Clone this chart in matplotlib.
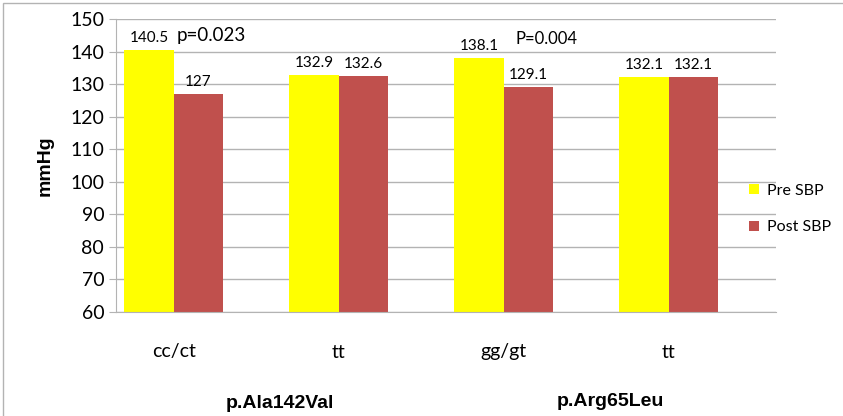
import matplotlib.pyplot as plt
import numpy as np
from matplotlib.patches import Rectangle

categories = ["cc/ct", "tt", "gg/gt", "tt"]
groups = ["p.Ala142Val", "p.Arg65Leu"]
pre_sbp = [140.5, 132.9, 138.1, 132.1]
post_sbp = [127, 132.6, 129.1, 132.1]
pre_labels = ["140.5", "132.9", "138.1", "132.1"]
post_labels = ["127", "132.6", "129.1", "132.1"]
p_values = ["p=0.023", "P=0.004"]

YELLOW = "#ffff00"
RED = "#c0504d"
FONT = "Lato"

fig = plt.figure(figsize=(8.43, 4.16), dpi=100)
ax = fig.add_axes([116 / 843, 1 - 312 / 416, 660 / 843, 293 / 416])

x = np.arange(len(categories))
w = 0.30
ax.bar(x - w / 2, pre_sbp, w, color=YELLOW, label="Pre SBP", zorder=2)
ax.bar(x + w / 2, post_sbp, w, color=RED, label="Post SBP", zorder=2)

for xi, v, t in zip(x, pre_sbp, pre_labels):
    ax.text(xi - w / 2, v + 1.5, t, ha="center", va="bottom", fontsize=11, family=FONT)
for xi, v, t in zip(x, post_sbp, post_labels):
    ax.text(xi + w / 2, v + 1.5, t, ha="center", va="bottom", fontsize=11, family=FONT)

# p-values above each pair
ax.text(x[0] + 0.02, 142.3, p_values[0], ha="left", va="bottom", fontsize=13.5, family=FONT)
ax.text(x[2] + 0.07, 141.5, p_values[1], ha="left", va="bottom", fontsize=12, family=FONT)

ax.set_ylim(60, 150)
ax.set_yticks(range(60, 151, 10))
ax.set_xlim(-0.35, 3.65)
ax.set_xticks([])
ax.grid(axis="y", color="#b3b3b3", linewidth=1, zorder=0)
for side in ["top", "right"]:
    ax.spines[side].set_visible(False)
ax.spines["left"].set_color("#b3b3b3")
ax.spines["bottom"].set_color("#b3b3b3")
ax.tick_params(axis="y", length=5, color="#b3b3b3", labelsize=14)
for lab in ax.get_yticklabels():
    lab.set_family(FONT)

ax.set_ylabel("mmHg", fontsize=14, fontweight="bold", family="Liberation Sans", labelpad=12)

for xi, c in zip(x, categories):
    fig.text((116 + 165 * (xi + 0.35)) / 843, 1 - 352 / 416, c,
             ha="center", va="center", fontsize=14, family=FONT)
fig.text(280 / 843, 1 - 404 / 416, groups[0], ha="center", va="center",
         fontsize=14, fontweight="bold", family="Liberation Sans")
fig.text(610 / 843, 1 - 402 / 416, groups[1], ha="center", va="center",
         fontsize=14, fontweight="bold", family="Liberation Sans")

leg = ax.legend(loc="upper left", bbox_to_anchor=(749 / 843, 1 - 184 / 416),
                bbox_transform=fig.transFigure, frameon=False,
                borderaxespad=0, borderpad=0,
                prop={"family": FONT, "size": 11.5}, handlelength=0.6,
                handleheight=0.6, handletextpad=0.5, labelspacing=1.4)

fig.patches.append(Rectangle((3 / 843, -0.01), 1.2, 1 - 3 / 416 + 0.01,
                             transform=fig.transFigure, fill=False,
                             edgecolor="#b3b3b3", linewidth=1))

fig.savefig("out.png", dpi=100)
